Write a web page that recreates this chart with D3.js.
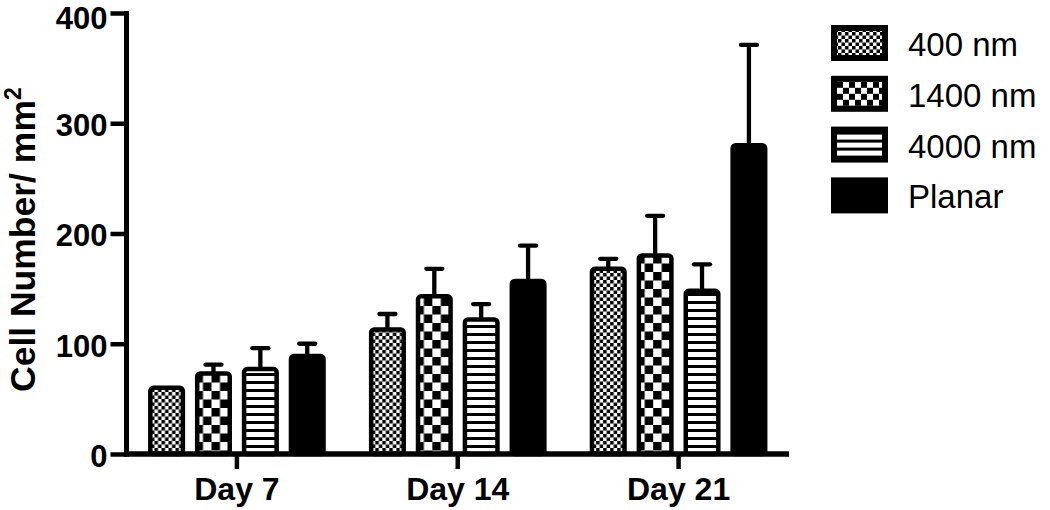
<!DOCTYPE html>
<html>
<head>
<meta charset="utf-8">
<script src="https://cdn.jsdelivr.net/npm/d3@7"></script>
<style>
  body { margin: 0; background: #fff; }
  svg { display: block; font-family: "Liberation Sans", Arial, sans-serif; }
</style>
</head>
<body>
<div id="chart"></div>
<script>
// data
var days = ["Day 7", "Day 14", "Day 21"];
var groups = ["400 nm", "1400 nm", "4000 nm", "Planar"];
var means400 = [60, 113, 168];
var means1400 = [73, 143, 180];
var means4000 = [77, 122, 148];
var meansPlanar = [89, 157, 280];
var sem400 = [0, 14, 9];
var sem1400 = [8, 25, 36];
var sem4000 = [19, 14, 24];
var semPlanar = [11, 32, 91];
var yTicks = [0, 100, 200, 300, 400];

var means = [means400, means1400, means4000, meansPlanar];
var sems = [sem400, sem1400, sem4000, semPlanar];
var fills = ["url(#fine)", "url(#coarse)", "url(#stripes)", "#000"];

var width = 1050, height = 510;
var svg = d3.select("#chart").append("svg")
  .attr("width", width)
  .attr("height", height);

// fill patterns
var defs = svg.append("defs");
var p1 = defs.append("pattern").attr("id", "fine")
  .attr("patternUnits", "userSpaceOnUse").attr("width", 7).attr("height", 7);
p1.append("rect").attr("width", 7).attr("height", 7).attr("fill", "#fff");
p1.append("rect").attr("width", 3.5).attr("height", 3.5).attr("fill", "#000");
p1.append("rect").attr("x", 3.5).attr("y", 3.5).attr("width", 3.5).attr("height", 3.5).attr("fill", "#000");

var p2 = defs.append("pattern").attr("id", "coarse")
  .attr("patternUnits", "userSpaceOnUse").attr("width", 17).attr("height", 17);
p2.append("rect").attr("width", 17).attr("height", 17).attr("fill", "#fff");
p2.append("rect").attr("width", 8.5).attr("height", 8.5).attr("fill", "#000");
p2.append("rect").attr("x", 8.5).attr("y", 8.5).attr("width", 8.5).attr("height", 8.5).attr("fill", "#000");

var p3 = defs.append("pattern").attr("id", "stripes")
  .attr("patternUnits", "userSpaceOnUse").attr("width", 8).attr("height", 8);
p3.append("rect").attr("width", 8).attr("height", 8).attr("fill", "#fff");
p3.append("rect").attr("y", 5).attr("width", 8).attr("height", 3).attr("fill", "#000");

var p4 = defs.append("pattern").attr("id", "coarseLeg")
  .attr("patternUnits", "userSpaceOnUse").attr("width", 12).attr("height", 12);
p4.append("rect").attr("width", 12).attr("height", 12).attr("fill", "#fff");
p4.append("rect").attr("width", 6).attr("height", 6).attr("fill", "#000");
p4.append("rect").attr("x", 6).attr("y", 6).attr("width", 6).attr("height", 6).attr("fill", "#000");

var x0 = d3.scaleBand().domain(days).range([126.5, 789]);
var x1 = d3.scaleBand().domain(groups).range([0, x0.bandwidth()])
  .paddingInner(0.21).paddingOuter(0.46);
var y = d3.scaleLinear().domain([0, 400]).range([454, 13]);

var sw = 4.5;

// bars
days.forEach(function (day, di) {
  var g = svg.append("g").attr("transform", "translate(" + x0(day) + ",0)");
  groups.forEach(function (grp, gi) {
    var v = means[gi][di], e = sems[gi][di];
    var bx = x1(grp) + sw / 2, bw = x1.bandwidth() - sw;
    var cx = x1(grp) + x1.bandwidth() / 2;
    // error bar (upper only)
    if (e > 0) {
      g.append("line")
        .attr("x1", cx).attr("x2", cx)
        .attr("y1", y(v)).attr("y2", y(v + e))
        .attr("stroke", "#000").attr("stroke-width", 4.3);
      g.append("line")
        .attr("x1", cx - 8).attr("x2", cx + 8)
        .attr("y1", y(v + e)).attr("y2", y(v + e))
        .attr("stroke", "#000").attr("stroke-width", 4.3)
        .attr("stroke-linecap", "round");
    }
    g.append("rect")
      .attr("x", bx).attr("width", bw)
      .attr("y", y(v)).attr("height", y(0) - y(v))
      .attr("rx", 3)
      .attr("fill", fills[gi])
      .attr("stroke", "#000").attr("stroke-width", sw);
  });
});

// y axis
var yAxis = svg.append("g").attr("transform", "translate(126.5,0)")
  .call(d3.axisLeft(y).tickValues(yTicks).tickSize(16).tickPadding(3));
yAxis.select(".domain").remove();
yAxis.selectAll(".tick line").attr("stroke", "#000").attr("stroke-width", 4.5);
yAxis.selectAll(".tick text")
  .attr("font-size", 31).attr("font-weight", "bold").attr("fill", "#000")
  .attr("dy", function (d) { return d === 400 ? "0.5em" : "0.4em"; })
  .attr("font-family", "'Liberation Sans', Arial, sans-serif");
svg.append("line")
  .attr("x1", 126.5).attr("x2", 126.5)
  .attr("y1", y(400) - 2).attr("y2", y(0) + 2.5)
  .attr("stroke", "#000").attr("stroke-width", 5);

// x axis
var xAxis = svg.append("g").attr("transform", "translate(0,454)")
  .call(d3.axisBottom(x0).tickSize(15).tickPadding(8));
xAxis.select(".domain").remove();
xAxis.selectAll(".tick line").attr("stroke", "#000").attr("stroke-width", 4.5);
xAxis.selectAll(".tick text")
  .attr("font-size", 32).attr("font-weight", "bold").attr("fill", "#000")
  .attr("font-family", "'Liberation Sans', Arial, sans-serif");
svg.append("line")
  .attr("x1", 124).attr("x2", 789)
  .attr("y1", 454).attr("y2", 454)
  .attr("stroke", "#000").attr("stroke-width", 5.5);

// y axis title
var yt = svg.append("text")
  .attr("transform", "translate(35,392) rotate(-90)")
  .attr("font-size", 35.5).attr("font-weight", "bold").attr("fill", "#000");
yt.append("tspan").text("Cell Number/ mm");
yt.append("tspan").attr("font-size", 23).attr("dy", -14).text("2");

// legend
var legFills = ["url(#fine)", "url(#coarseLeg)", "url(#stripes)", "#000"];
var leg = svg.append("g").attr("transform", "translate(831,25)");
groups.forEach(function (grp, gi) {
  var row = leg.append("g").attr("transform", "translate(0," + gi * 50.8 + ")");
  row.append("rect").attr("width", 57).attr("height", 36).attr("fill", "#000");
  if (gi < 3) {
    row.append("rect").attr("x", 6).attr("y", 6).attr("width", 45).attr("height", 24)
      .attr("fill", legFills[gi]);
  }
  row.append("text").attr("x", 77).attr("y", 31)
    .attr("font-size", 33).attr("fill", "#000").text(grp);
});
</script>
</body>
</html>
